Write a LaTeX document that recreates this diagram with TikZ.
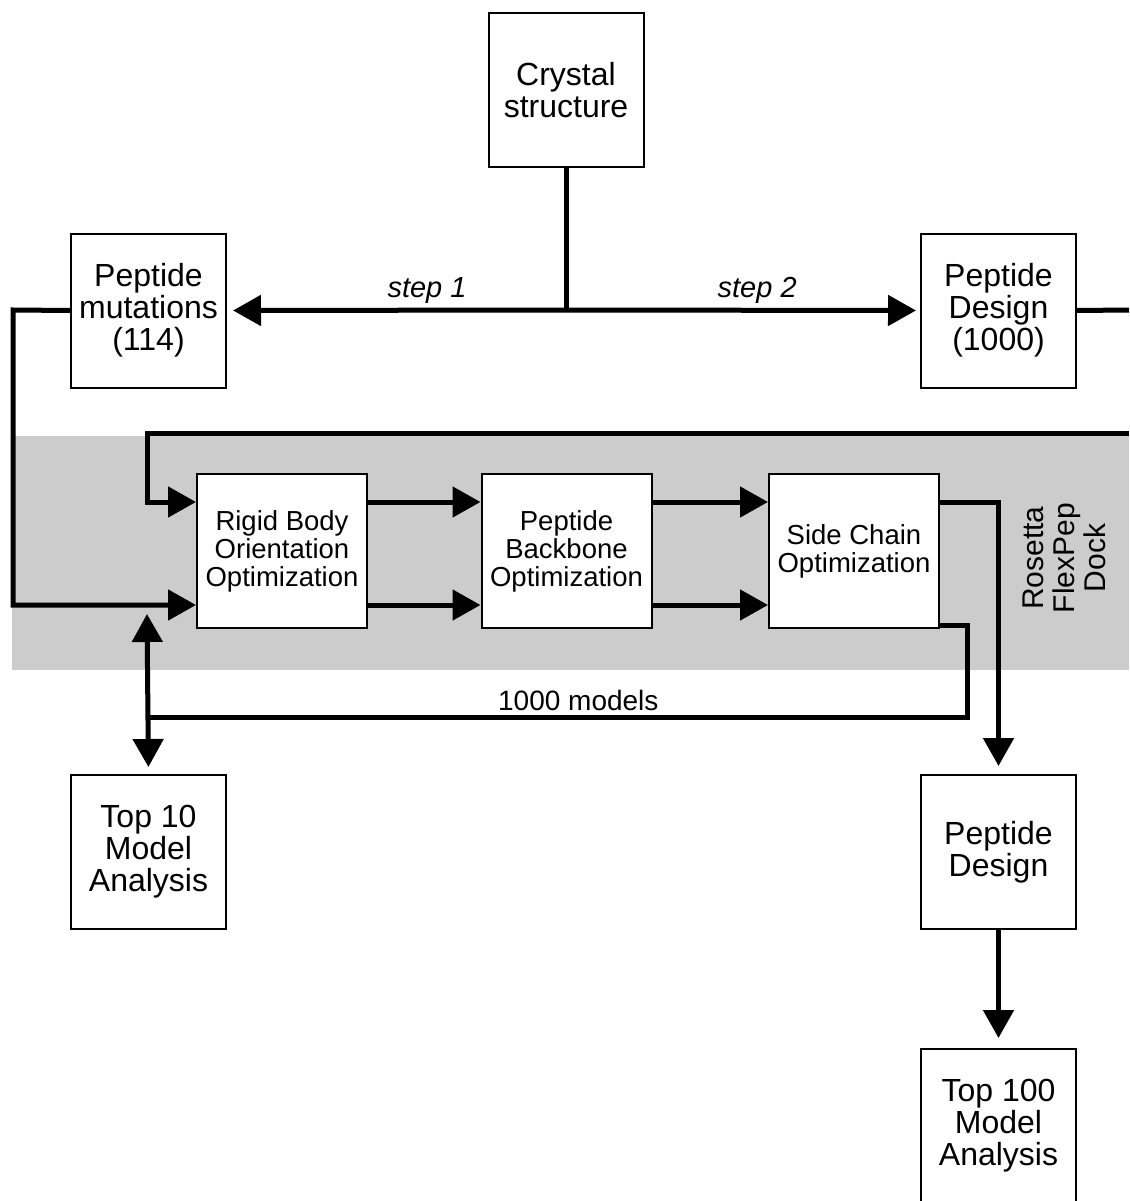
\documentclass[tikz,border=0pt]{standalone}
\usepackage{fontspec}
\setmainfont{Liberation Sans}
\usetikzlibrary{arrows.meta,calc}
\begin{document}
\begin{tikzpicture}[x=1pt,y=-1pt,
  bigbox/.style={draw=black,line width=2pt,fill=white,minimum width=155pt,minimum height=154pt,inner sep=0pt,align=center,font=\fontsize{32}{32}\selectfont},
  optbox/.style={draw=black,line width=2pt,fill=white,minimum width=170pt,minimum height=154pt,inner sep=0pt,align=center,font=\fontsize{27.5}{28}\selectfont},
  conn/.style={line width=5pt},
  arr/.style={line width=5pt,-{Triangle[length=28pt,width=30pt]}},
  darr/.style={line width=5pt,{Triangle[length=28pt,width=30pt]}-{Triangle[length=28pt,width=30pt]}},
  lbl/.style={inner sep=0pt,font=\fontsize{29}{29}\selectfont\itshape}
]
\useasboundingbox (0,0) rectangle (1129,1201);
\fill[fill={rgb,255:red,204;green,204;blue,204}] (12,436) rectangle (1129,670);

\node[bigbox] (crystal) at (566,90) {Crystal\\structure};
\node[bigbox] (mut) at (148.5,310.5) {Peptide\\mutations\\(114)};
\node[bigbox] (design) at (998.5,310.5) {Peptide\\Design\\(1000)};
\node[optbox] (rigid) at (282,551) {Rigid Body\\Orientation\\Optimization};
\node[optbox] (backbone) at (566.5,551) {Peptide\\Backbone\\Optimization};
\node[optbox] (side) at (854,551) {Side Chain\\Optimization};
\node[bigbox] (top10) at (148.5,852) {Top 10\\Model\\Analysis};
\node[bigbox] (design2) at (998.5,852) {Peptide\\Design};
\node[bigbox] (top100) at (998.5,1126) {Top 100\\Model\\Analysis};

\coordinate (J) at (566,310);
\coordinate (rightend) at (1129,310);
\coordinate (topR) at (1129,433);
\coordinate (topL) at (147,433);
\coordinate (leftX) at (13,310);
\coordinate (loopR) at (967,717);
\coordinate (loopL) at (147,717);
\coordinate (dtop) at (147,614);

\draw[conn] (crystal.south) -- (J);
\draw[arr,shorten >=6pt] (J) -- (mut.east) node[lbl,pos=0.41,above=4pt] {step 1};
\draw[arr,shorten >=4pt] (J) -- (design.west) node[lbl,pos=0.54,above=4pt] {step 2};
\draw[conn] (design.east) -- (rightend);

\draw[arr] (mut.west) -- (leftX) |- ([yshift=-54pt]rigid.west);
\draw[arr] (topR) -- (topL) |- ([yshift=49pt]rigid.west);

\draw[arr] ([yshift=49pt]rigid.east) -- ([yshift=49pt]backbone.west);
\draw[arr] ([yshift=-54pt]rigid.east) -- ([yshift=-54pt]backbone.west);
\draw[arr] ([yshift=49pt]backbone.east) -- ([yshift=49pt]side.west);
\draw[arr] ([yshift=-54pt]backbone.east) -- ([yshift=-54pt]side.west);

\draw[arr,shorten >=8pt] ([yshift=49pt]side.east) -| (design2.north);
\draw[conn] ([yshift=-74pt]side.east) -| (loopR) -- (loopL)
  node[pos=0.474,above=4pt,inner sep=0pt,font=\fontsize{28}{28}\selectfont] {1000 models};
\draw[darr,shorten >=7pt] (dtop) -- (top10.north);
\draw[arr,shorten >=10pt] (design2.south) -- (top100.north);

\node[rotate=90,align=center,inner sep=0pt,font=\fontsize{30}{31}\selectfont] (rosetta) at (1064,558) {Rosetta\\FlexPep\\Dock};
\end{tikzpicture}
\end{document}
